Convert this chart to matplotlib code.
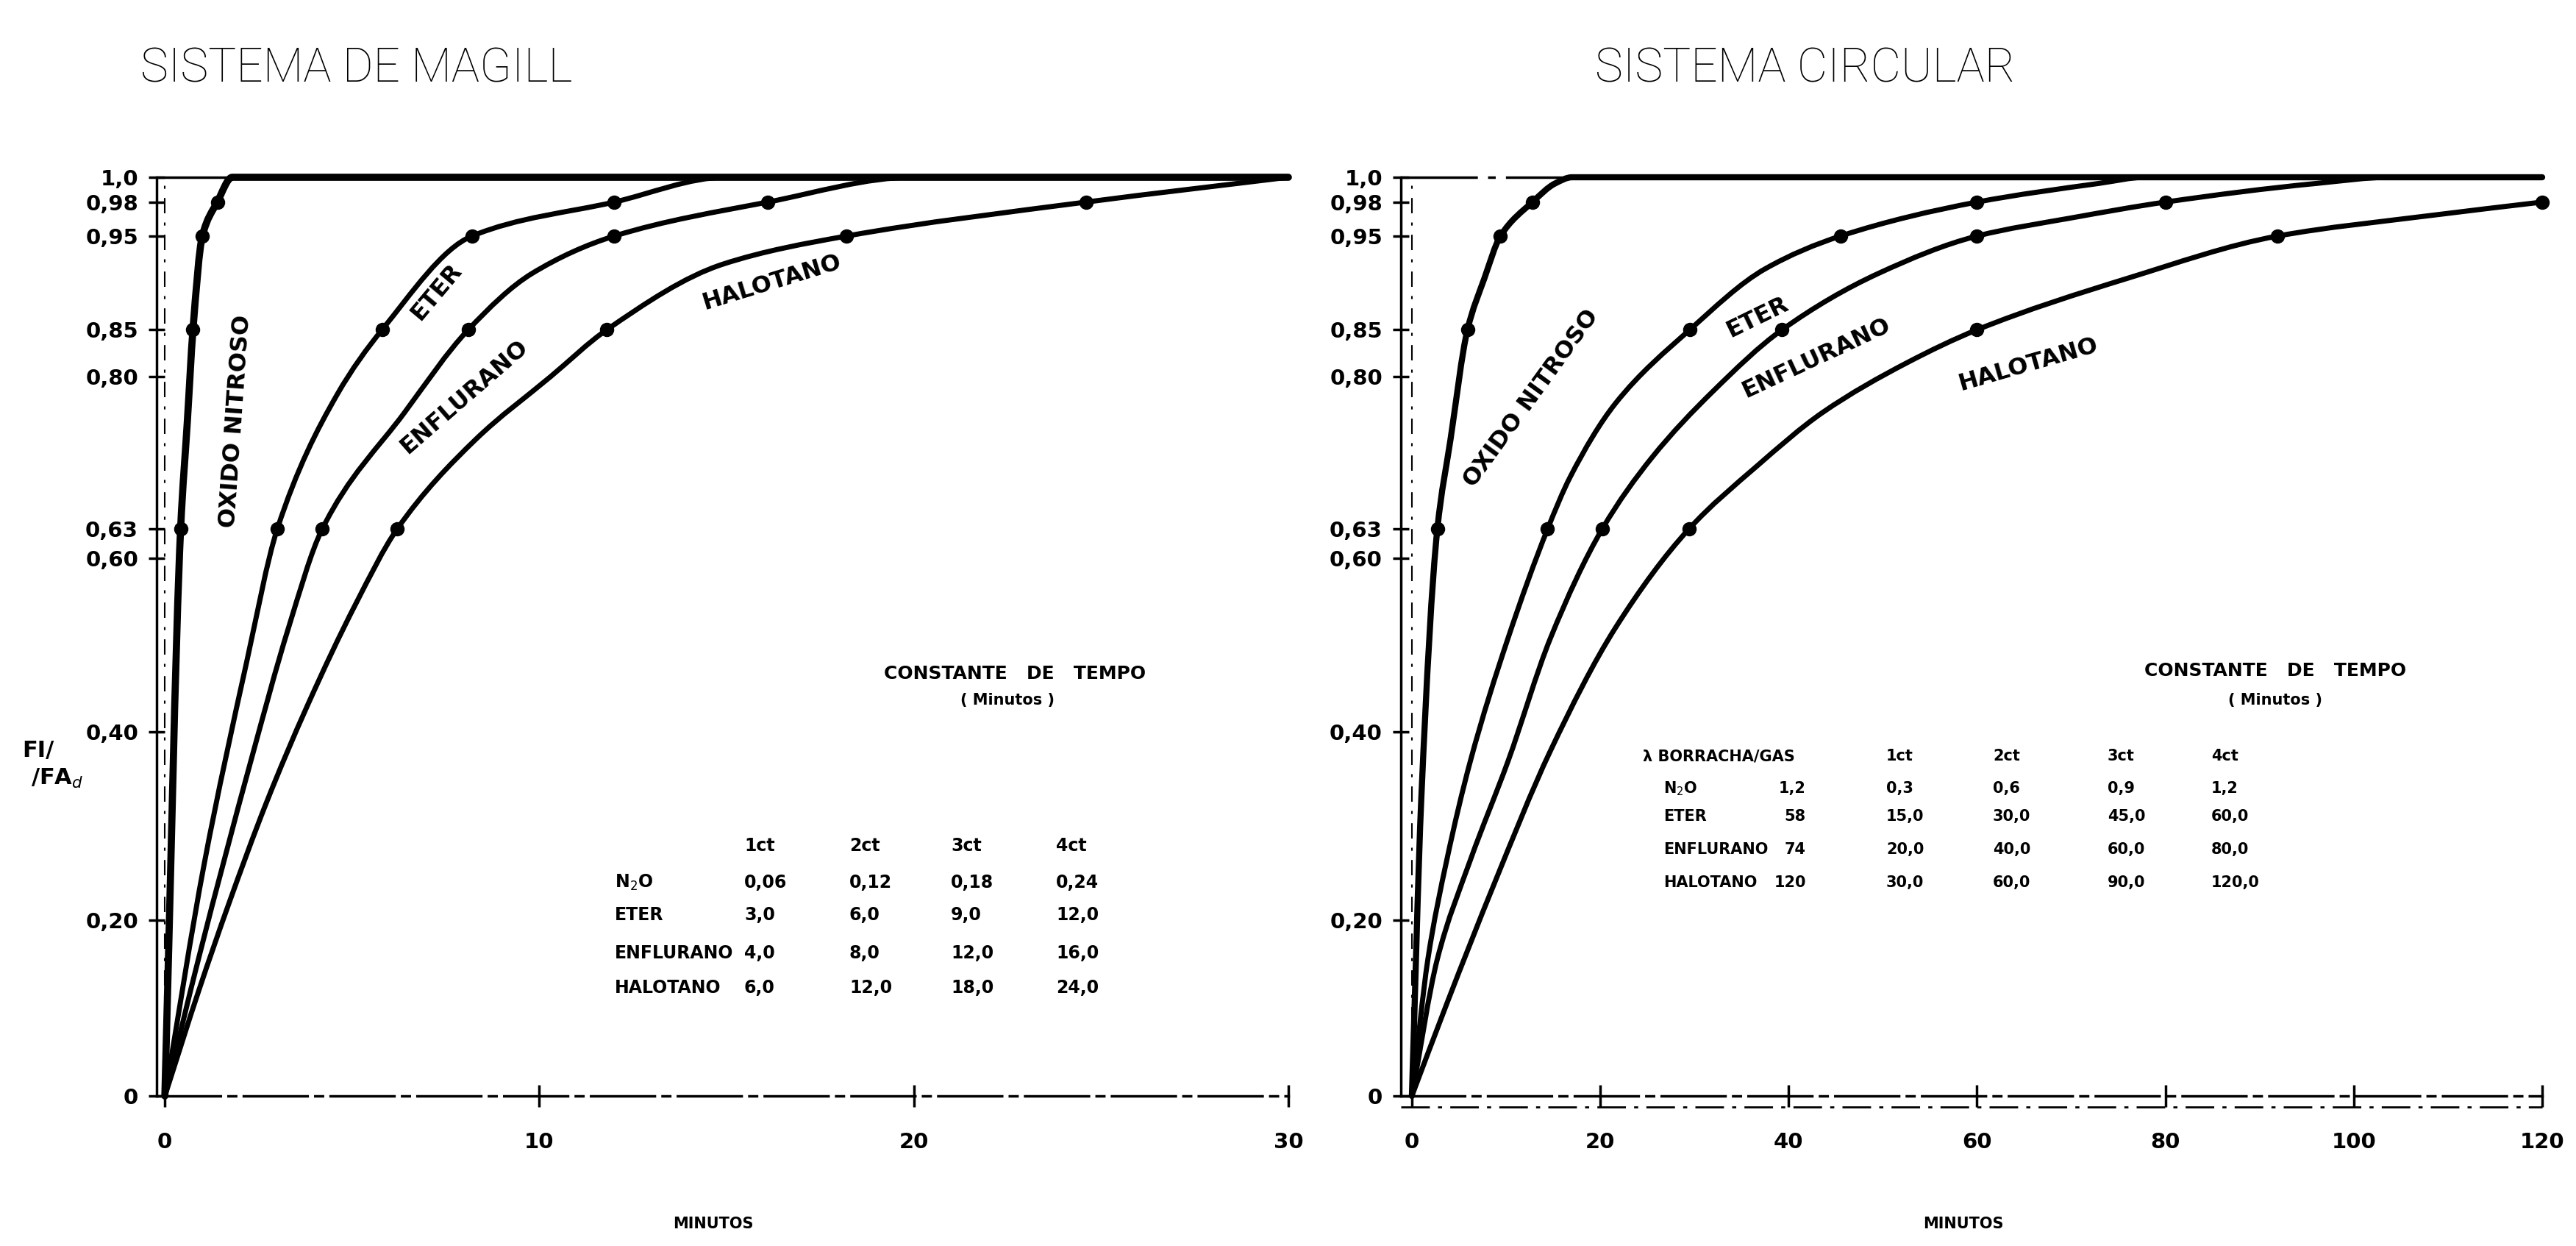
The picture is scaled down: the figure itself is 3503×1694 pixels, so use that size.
import numpy as np
import matplotlib.pyplot as plt
from matplotlib.path import Path
from matplotlib.patches import PathPatch

# ---- data ----
y_tick_vals = [0, 0.20, 0.40, 0.60, 0.63, 0.80, 0.85, 0.95, 0.98, 1.0]
y_tick_text = ["0", "0,20", "0,40", "0,60", "0,63", "0,80", "0,85", "0,95", "0,98", "1,0"]
# where the hand drawn ticks sit along the axis (fraction of its height)
axis_heights = [0, 0.191, 0.396, 0.585, 0.617, 0.783, 0.834, 0.936, 0.973, 1.0]

marker_vals = [0.63, 0.85, 0.95, 0.98]

# Magill system (minutes)
n2o_l_t = [0, 0.42, 0.6, 0.75, 1.0, 1.4, 1.8, 30]
n2o_l_v = [0, 0.63, 0.75, 0.85, 0.95, 0.98, 1.0, 1.0]
n2o_l_mark = [0.42, 0.75, 1.0, 1.4]

eter_l_t = [0, 1.05, 2.18, 3.0, 4.6, 5.8, 8.2, 12.0, 15.0, 30]
eter_l_v = [0, 0.26, 0.48, 0.63, 0.78, 0.85, 0.95, 0.98, 1.0, 1.0]
eter_l_mark = [3.0, 5.8, 8.2, 12.0]

enfl_l_t = [0, 0.92, 2.3, 3.3, 4.2, 6.4, 8.1, 9.8, 12.0, 16.1, 20.0, 30]
enfl_l_v = [0, 0.16, 0.37, 0.52, 0.63, 0.76, 0.85, 0.91, 0.95, 0.98, 1.0, 1.0]
enfl_l_mark = [4.2, 8.1, 12.0, 16.1]

halo_l_t = [0, 0.92, 1.7, 2.7, 3.8, 5.1, 6.2, 8.3, 10.3, 11.8, 14.9, 18.2, 24.6, 30]
halo_l_v = [0, 0.122, 0.217, 0.324, 0.43, 0.548, 0.63, 0.73, 0.80, 0.85, 0.92, 0.95, 0.98, 1.0]
halo_l_mark = [6.2, 11.8, 18.2, 24.6]

# circular system (minutes)
n2o_r_t = [0, 1.0, 2.7, 4.1, 5.9, 7.7, 9.4, 12.8, 15.2, 17.0, 120]
n2o_r_v = [0, 0.33, 0.63, 0.73, 0.85, 0.905, 0.95, 0.98, 0.995, 1.0, 1.0]
n2o_r_mark = [2.7, 5.9, 9.4, 12.8]

eter_r_t = [0, 1.7, 3.7, 6.2, 10.2, 14.4, 16.8, 21.6, 29.5, 37.5, 45.5, 60, 72.9, 78, 120]
eter_r_v = [0, 0.156, 0.264, 0.369, 0.508, 0.63, 0.688, 0.77, 0.85, 0.915, 0.95, 0.98, 0.995, 1.0, 1.0]
eter_r_mark = [14.4, 29.5, 45.5, 60]

enfl_r_t = [0, 2.7, 6.2, 10.2, 14.7, 20.2, 25.5, 32, 39.3, 49.5, 60, 70, 80, 96, 104, 120]
enfl_r_v = [0, 0.156, 0.264, 0.369, 0.508, 0.63, 0.71, 0.784, 0.85, 0.91, 0.95, 0.966, 0.98, 0.995, 1.0, 1.0]
enfl_r_mark = [20.2, 39.3, 60, 80]

halo_r_t = [0, 3.7, 8.7, 14.7, 21.6, 29.4, 36.6, 43.6, 52.6, 60, 76, 91.9, 108, 120]
halo_r_v = [0, 0.105, 0.238, 0.38, 0.52, 0.63, 0.70, 0.76, 0.815, 0.85, 0.905, 0.95, 0.968, 0.98]
halo_r_mark = [29.4, 60, 91.9, 120]

# tables
col_heads = ["1ct", "2ct", "3ct", "4ct"]
gases = ["N$_2$O", "ETER", "ENFLURANO", "HALOTANO"]
magill_tc = [["0,06", "0,12", "0,18", "0,24"],
             ["3,0", "6,0", "9,0", "12,0"],
             ["4,0", "8,0", "12,0", "16,0"],
             ["6,0", "12,0", "18,0", "24,0"]]
lambda_rubber = ["1,2", "58", "74", "120"]
circ_tc = [["0,3", "0,6", "0,9", "1,2"],
           ["15,0", "30,0", "45,0", "60,0"],
           ["20,0", "40,0", "60,0", "80,0"],
           ["30,0", "60,0", "90,0", "120,0"]]

W, H = 3503, 1694


def fwd(v):
    v = np.asarray(v, dtype=float)
    return np.interp(v, y_tick_vals, axis_heights) + np.minimum(v, 0) + np.maximum(v - 1, 0)


def inv(h):
    h = np.asarray(h, dtype=float)
    return np.interp(h, axis_heights, y_tick_vals) + np.minimum(h, 0) + np.maximum(h - 1, 0)


def smooth_path(t, v):
    # hand drawn look: monotone cubic bezier through the read points
    x = np.asarray(t, dtype=float)
    h = fwd(v)
    d = np.diff(h) / np.diff(x)
    m = np.zeros(len(x))
    m[0], m[-1] = d[0], d[-1]
    for i in range(1, len(x) - 1):
        if d[i - 1] * d[i] <= 0:
            m[i] = 0
        else:
            w1 = 2 * (x[i + 1] - x[i]) + (x[i] - x[i - 1])
            w2 = (x[i + 1] - x[i]) + 2 * (x[i] - x[i - 1])
            m[i] = (w1 + w2) / (w1 / d[i - 1] + w2 / d[i])
    verts = [(x[0], h[0])]
    codes = [Path.MOVETO]
    for i in range(len(x) - 1):
        dx = x[i + 1] - x[i]
        verts += [(x[i] + dx / 3, h[i] + m[i] * dx / 3),
                  (x[i + 1] - dx / 3, h[i + 1] - m[i + 1] * dx / 3),
                  (x[i + 1], h[i + 1])]
        codes += [Path.CURVE4] * 3
    verts = np.array(verts)
    verts[:, 1] = inv(verts[:, 1])
    return Path(verts, codes)


def fpos(x, y):
    # pixel position in the full image -> figure fraction
    return x / W, 1 - y / H


fig = plt.figure(figsize=(W / 100, H / 100), dpi=100)
bold = dict(fontweight='bold', color='black')

ax1 = fig.add_axes([213 / W, (H - 1490) / H, (1752 - 213) / W, (1490 - 241) / H])
ax2 = fig.add_axes([1905 / W, (H - 1490) / H, (3457 - 1905) / W, (1490 - 241) / H])

panels = [
    (ax1, (-0.22, 30), [0, 10, 20, 30], ["0", "10", "20", "30"],
     [(n2o_l_t, n2o_l_v, n2o_l_mark, 7), (eter_l_t, eter_l_v, eter_l_mark, 5),
      (enfl_l_t, enfl_l_v, enfl_l_mark, 5), (halo_l_t, halo_l_v, halo_l_mark, 5)]),
    (ax2, (-1.17, 120), [0, 20, 40, 60, 80, 100, 120], ["0", "20", "40", "60", "80", "100", "120"],
     [(n2o_r_t, n2o_r_v, n2o_r_mark, 6), (eter_r_t, eter_r_v, eter_r_mark, 5),
      (enfl_r_t, enfl_r_v, enfl_r_mark, 5), (halo_r_t, halo_r_v, halo_r_mark, 5)]),
]

for ax, xlim, xt, xtl, curves in panels:
    ax.set_yscale('function', functions=(fwd, inv))
    ax.set_xlim(*xlim)
    ax.set_ylim(0, 1.0)
    for t, v, mt, lw in curves:
        ax.add_patch(PathPatch(smooth_path(t, v), fill=False, edgecolor='black', lw=lw,
                               capstyle='round', joinstyle='round', clip_on=False, zorder=3))
        ax.plot(mt, marker_vals, 'o', color='black', ms=13, clip_on=False, zorder=4)
    ax.axhline(1.0, color='black', lw=2.5, ls=(0, (30, 4, 3, 4)), clip_on=False, zorder=2)
    ax.axvline(0, color='black', lw=1.5, ls=(0, (10, 6, 2, 6)), zorder=2)
    ax.spines['top'].set_visible(False)
    ax.spines['right'].set_visible(False)
    ax.spines['left'].set_linewidth(2.5)
    ax.spines['bottom'].set_linewidth(2.5)
    ax.spines['bottom'].set_linestyle((0, (25, 3, 3, 3)))
    ax.set_yticks(y_tick_vals)
    ax.set_yticklabels(y_tick_text)
    ax.set_xticks(xt)
    ax.set_xticklabels(xtl)
    ax.yaxis.set_minor_locator(plt.NullLocator())
    ax.tick_params(axis='y', direction='inout', length=16, width=2.5, pad=10, labelsize=21)
    ax.tick_params(axis='x', direction='inout', length=22, width=2.5, pad=24, labelsize=21)
    for lab in ax.get_xticklabels() + ax.get_yticklabels():
        lab.set_fontweight('bold')
    ax.set_facecolor('none')

# second (dashed) base line of the circular panel
ax2.axhline(-0.012, color='black', lw=2, ls=(0, (14, 4, 2, 4)), clip_on=False, zorder=2)

# titles
title_font = dict(family=['Roboto', 'DejaVu Sans'], fontweight='light', fontsize=46, color='black')
fig.text(*fpos(485, 94), "SISTEMA DE MAGILL", ha='center', va='center', **title_font)
fig.text(*fpos(2455, 94), "SISTEMA CIRCULAR", ha='center', va='center', **title_font)

# axis labels
fig.text(*fpos(970, 1664), "MINUTOS", ha='center', va='center', fontsize=15, **bold)
fig.text(*fpos(2670, 1664), "MINUTOS", ha='center', va='center', fontsize=15, **bold)
fig.text(*fpos(30, 1020), "FI/", ha='left', va='center', fontsize=22, **bold)
fig.text(*fpos(42, 1058), "/FA$_d$", ha='left', va='center', fontsize=22, **bold)

# curve labels
lab = dict(fontsize=23, ha='center', va='center', rotation_mode='anchor', **bold)
ax1.text(1.9, 0.75, "OXIDO NITROSO", rotation=86, **lab)
ax1.text(7.25, 0.89, "ETER", rotation=50, **lab)
ax1.text(8.0, 0.777, "ENFLURANO", rotation=41, **lab)
ax1.text(16.2, 0.90, "HALOTANO", rotation=17, **lab)
ax2.text(12.7, 0.776, "OXIDO NITROSO", rotation=54, **lab)
ax2.text(36.7, 0.863, "ETER", rotation=26, **lab)
ax2.text(42.9, 0.82, "ENFLURANO", rotation=25, **lab)
ax2.text(65.4, 0.813, "HALOTANO", rotation=16, **lab)

# Magill table
tfs = 17
fig.text(*fpos(1380, 916), "CONSTANTE   DE   TEMPO", ha='center', va='center', fontsize=tfs + 1, **bold)
fig.text(*fpos(1370, 952), "( Minutos )", ha='center', va='center', fontsize=tfs - 2, **bold)
col_x = [1012, 1155, 1293, 1436]
row_y = [1200, 1244, 1296, 1343]
for cx, ch in zip(col_x, col_heads):
    fig.text(*fpos(cx, 1150), ch, ha='left', va='center', fontsize=tfs, **bold)
for ry, g, vals in zip(row_y, gases, magill_tc):
    fig.text(*fpos(836, ry), g, ha='left', va='center', fontsize=tfs, **bold)
    for cx, s in zip(col_x, vals):
        fig.text(*fpos(cx, ry), s, ha='left', va='center', fontsize=tfs, **bold)

# circular table
rfs = 15
fig.text(*fpos(3094, 912), "CONSTANTE   DE   TEMPO", ha='center', va='center', fontsize=tfs + 1, **bold)
fig.text(*fpos(3094, 952), "( Minutos )", ha='center', va='center', fontsize=tfs - 2, **bold)
col_x = [2565, 2710, 2866, 3007]
row_y = [1072, 1110, 1155, 1200]
fig.text(*fpos(2234, 1028), "λ BORRACHA/GAS", ha='left', va='center', fontsize=rfs, **bold)
for cx, ch in zip(col_x, col_heads):
    fig.text(*fpos(cx, 1028), ch, ha='left', va='center', fontsize=rfs, **bold)
for ry, g, lam, vals in zip(row_y, gases, lambda_rubber, circ_tc):
    fig.text(*fpos(2262, ry), g, ha='left', va='center', fontsize=rfs, **bold)
    fig.text(*fpos(2456, ry), lam, ha='right', va='center', fontsize=rfs, **bold)
    for cx, s in zip(col_x, vals):
        fig.text(*fpos(cx, ry), s, ha='left', va='center', fontsize=rfs, **bold)

fig.savefig("out.png", dpi=100, facecolor='white')
